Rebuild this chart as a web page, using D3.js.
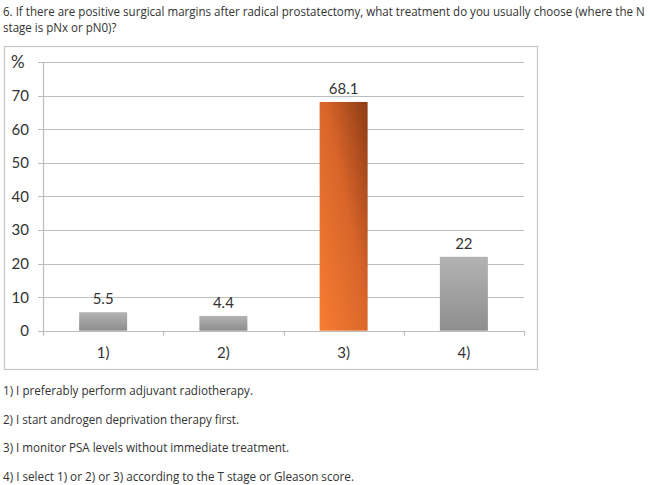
<!DOCTYPE html>
<html>
<head>
<meta charset="utf-8">
<script src="https://cdn.jsdelivr.net/npm/d3@7"></script>
<style>
  body { margin: 0; background: #fff; }
  svg text { fill: #333; }
</style>
</head>
<body>
<script>
// answers and their share (%)
var categories = ["1)", "2)", "3)", "4)"];
var values = [5.5, 4.4, 68.1, 22];
var yTicks = [0, 10, 20, 30, 40, 50, 60, 70, 80];
var titleLines = [
  "6. If there are positive surgical margins after radical prostatectomy, what treatment do you usually choose (where the N",
  "stage is pNx or pN0)?"
];
var answers = [
  "1) I preferably perform adjuvant radiotherapy.",
  "2) I start androgen deprivation therapy first.",
  "3) I monitor PSA levels without immediate treatment.",
  "4) I select 1) or 2) or 3) according to the T stage or Gleason score."
];
// where each answer line ends in the picture
var answerEnds = [253, 239, 289, 354];

var svg = d3.select("body").append("svg")
  .attr("width", 650)
  .attr("height", 485);

var defs = svg.append("defs");
var grey = defs.append("linearGradient").attr("id", "grey")
  .attr("x1", 0).attr("y1", 0).attr("x2", 0).attr("y2", 1);
grey.append("stop").attr("offset", "0%").attr("stop-color", "#b3b3b3");
grey.append("stop").attr("offset", "100%").attr("stop-color", "#8e8e8e");
var orange = defs.append("linearGradient").attr("id", "orange")
  .attr("x1", 0).attr("y1", 1).attr("x2", 1).attr("y2", 0);
orange.append("stop").attr("offset", "0%").attr("stop-color", "#f77d32");
orange.append("stop").attr("offset", "55%").attr("stop-color", "#d9652a");
orange.append("stop").attr("offset", "100%").attr("stop-color", "#8c3b15");

var textFont = "'Open Sans', 'Noto Sans', sans-serif";

// question text; the page font is a bit narrower, so squeeze line 1 to its width
var title = svg.selectAll(".title").data(titleLines).enter().append("text")
  .attr("class", "title")
  .attr("x", 0).attr("y", 0)
  .style("font-family", textFont)
  .style("font-size", "13px")
  .text(function(d) { return d; });
var sx = 642 / title.node().getComputedTextLength();
title.attr("transform", function(d, i) {
  return "translate(3," + (15.5 + i * 16.5) + ") scale(" + sx + ",1)";
});

// chart frame
svg.append("rect")
  .attr("x", 4.5).attr("y", 46.5)
  .attr("width", 533).attr("height", 323)
  .attr("fill", "none")
  .attr("stroke", "#c8c8c8")
  .attr("stroke-width", 1.3);

var x = d3.scaleBand().domain(categories).range([43, 524]).paddingInner(0).paddingOuter(0);
var y = d3.scaleLinear().domain([0, 80]).range([330.7, 62]);

var chartFont = "Lato, 'Open Sans', sans-serif";

// gridlines
svg.append("g").selectAll("line").data(yTicks).enter().append("line")
  .attr("x1", 38).attr("x2", 524)
  .attr("y1", function(d) { return Math.round(y(d)) + 0.5; })
  .attr("y2", function(d) { return Math.round(y(d)) + 0.5; })
  .attr("stroke", "#bdbdbd")
  .attr("stroke-width", 1.2);

// y axis line
svg.append("line")
  .attr("x1", 43.5).attr("x2", 43.5)
  .attr("y1", y(80)).attr("y2", y(0) + 4)
  .attr("stroke", "#bdbdbd").attr("stroke-width", 1.2);

// x axis category ticks
var bounds = categories.map(function(c) { return x(c); }).concat([x.range()[1]]);
svg.append("g").selectAll("line").data(bounds).enter().append("line")
  .attr("x1", function(d) { return Math.round(d) + 0.5; })
  .attr("x2", function(d) { return Math.round(d) + 0.5; })
  .attr("y1", y(0)).attr("y2", y(0) + 5)
  .attr("stroke", "#bdbdbd").attr("stroke-width", 1.2);

// y tick labels (top one is the unit)
svg.append("g").selectAll("text").data(yTicks).enter().append("text")
  .attr("x", function(d) { return d === 80 ? 11 : 29; })
  .attr("y", function(d) { return y(d) + 5.5; })
  .attr("text-anchor", function(d) { return d === 80 ? "start" : "end"; })
  .style("font-family", chartFont)
  .style("font-size", function(d) { return d === 80 ? "17px" : "15px"; })
  .text(function(d) { return d === 80 ? "%" : d; });

// bars
var barW = 48;
svg.append("g").selectAll("rect").data(values).enter().append("rect")
  .attr("x", function(d, i) { return x(categories[i]) + x.bandwidth() / 2 - barW / 2; })
  .attr("y", function(d) { return y(d); })
  .attr("width", barW)
  .attr("height", function(d) { return y(0) - y(d); })
  .attr("fill", function(d, i) { return i === 2 ? "url(#orange)" : "url(#grey)"; });

// value labels
svg.append("g").selectAll("text").data(values).enter().append("text")
  .attr("x", function(d, i) { return x(categories[i]) + x.bandwidth() / 2; })
  .attr("y", function(d) { return y(d) - 8; })
  .attr("text-anchor", "middle")
  .style("font-family", chartFont)
  .style("font-size", "15px")
  .text(function(d) { return d; });

// category labels
svg.append("g").selectAll("text").data(categories).enter().append("text")
  .attr("x", function(d) { return x(d) + x.bandwidth() / 2; })
  .attr("y", 358)
  .attr("text-anchor", "middle")
  .style("font-family", chartFont)
  .style("font-size", "15px")
  .text(function(d) { return d; });

// answer list, each line fitted to its width in the picture
svg.selectAll(".answer").data(answers).enter().append("text")
  .attr("class", "answer")
  .attr("x", 3)
  .attr("y", function(d, i) { return 395 + i * 28.7; })
  .attr("textLength", function(d, i) { return answerEnds[i] - 3; })
  .attr("lengthAdjust", "spacingAndGlyphs")
  .style("font-family", textFont)
  .style("font-size", "13px")
  .text(function(d) { return d; });
</script>
</body>
</html>
